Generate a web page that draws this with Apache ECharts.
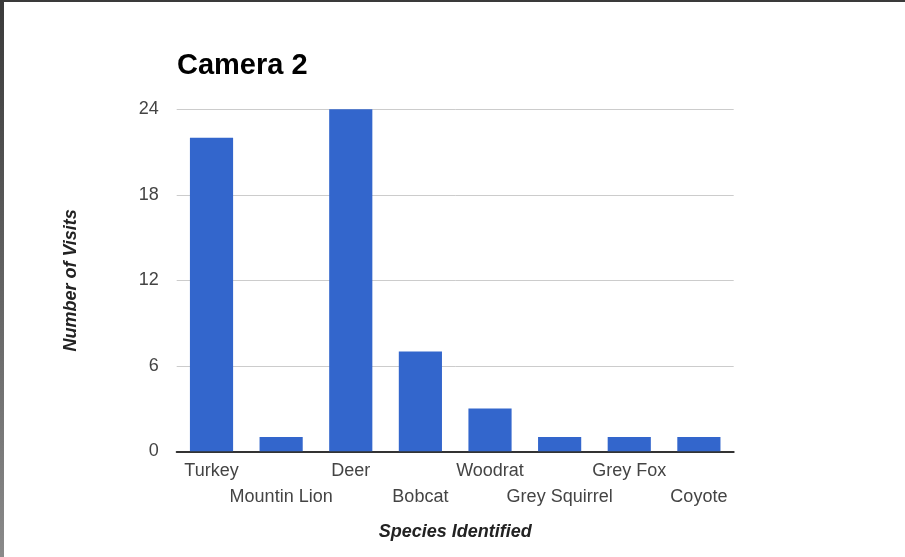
<!DOCTYPE html>
<html>
<head>
<meta charset="utf-8">
<script src="https://cdn.jsdelivr.net/npm/echarts@6/dist/echarts.min.js"></script>
<style>
  html, body { margin: 0; padding: 0; width: 905px; height: 557px; overflow: hidden;
    background: linear-gradient(#3a3a3a, #8a8a8a); }
  #chart { position: absolute; left: 4px; top: 2px; width: 901px; height: 555px; background: #fff; }
</style>
</head>
<body>
<div id="chart"></div>
<script>
var species = ['Turkey', 'Mountin Lion', 'Deer', 'Bobcat', 'Woodrat', 'Grey Squirrel', 'Grey Fox', 'Coyote'];
var visits = [22, 1, 24, 7, 3, 1, 1, 1];
var yTicks = [0, 6, 12, 18, 24];

var mchart = echarts.init(document.getElementById('chart'));

var option = {
    animation: false,
    textStyle: { fontFamily: 'Liberation Sans, Arial, sans-serif' },
    title: {
        text: 'Camera 2',
        left: 173,
        top: 49,
        padding: 0,
        textStyle: { fontSize: 29, fontWeight: 'bold', color: '#000', fontFamily: 'Liberation Sans, Arial, sans-serif' }
    },
    grid: { left: 172.7, top: 107.3, width: 557, height: 342, containLabel: false },
    xAxis: {
        type: 'category',
        data: species,
        name: 'Species Identified',
        nameLocation: 'middle',
        nameGap: 72,
        nameTextStyle: { fontSize: 18, fontWeight: 'bold', fontStyle: 'italic', color: '#222' },
        axisLine: { lineStyle: { color: '#333', width: 2 } },
        axisTick: { show: false },
        axisLabel: {
            interval: 0,
            margin: 7,
            fontSize: 18,
            color: '#444',
            lineHeight: 26,
            formatter: function (v, i) { return i % 2 ? '\n' + v : v; }
        }
    },
    yAxis: {
        type: 'value',
        min: yTicks[0],
        max: yTicks[yTicks.length - 1],
        interval: yTicks[1] - yTicks[0],
        name: 'Number of Visits',
        nameLocation: 'middle',
        nameRotate: 90,
        nameGap: 97,
        nameTextStyle: { fontSize: 18, fontWeight: 'bold', fontStyle: 'italic', color: '#222' },
        axisLine: { show: false },
        axisTick: { show: false },
        axisLabel: { margin: 18, fontSize: 18, color: '#444' },
        splitLine: { lineStyle: { color: '#ccc', width: 1 } }
    },
    series: [{
        type: 'bar',
        data: visits,
        barWidth: '62%',
        itemStyle: { color: '#3366cc' }
    }]
};

mchart.setOption(option, true);
</script>
</body>
</html>
